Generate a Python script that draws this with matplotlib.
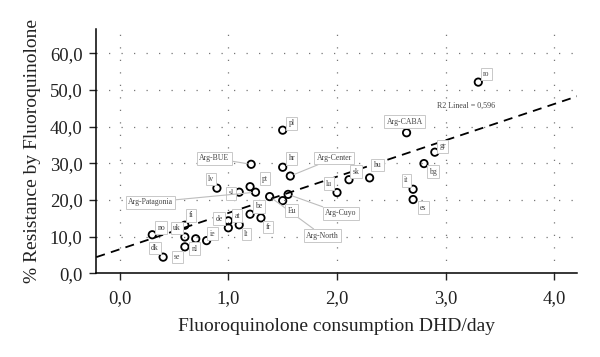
import numpy as np
import matplotlib
matplotlib.use("Agg")
import matplotlib.pyplot as plt

# data
labels = ["ro", "pl", "Arg-CABA", "gr", "bg", "Arg-BUE", "hr", "Arg-Center",
          "pt", "lv", "sl", "Arg-Patagonia", "Arg-North", "Eu", "Arg-Cuyo",
          "lu", "sk", "hu", "it", "es",
          "be", "at", "de", "lt", "fr",
          "fi", "no", "uk", "nl", "ie", "dk", "se"]
consumption = [3.30, 1.50, 2.64, 2.90, 2.80, 1.21, 1.50, 1.57,
               1.20, 0.895, 1.10, 1.25, 1.38, 1.50, 1.55,
               2.00, 2.11, 2.30, 2.70, 2.70,
               1.20, 1.00, 1.00, 1.10, 1.30,
               0.60, 0.30, 0.60, 0.70, 0.80, 0.60, 0.40]
resistance = [52.1, 39.0, 38.3, 33.0, 29.9, 29.7, 28.9, 26.5,
              23.6, 23.2, 22.1, 22.1, 20.9, 19.8, 21.5,
              22.0, 25.5, 26.0, 22.9, 20.1,
              16.1, 14.3, 12.4, 13.2, 15.1,
              13.1, 10.5, 9.9, 9.4, 8.9, 7.2, 4.4]
r2_text = "R2 Lineal = 0,596"

# label offsets in pixels (dx, dy) and whether a leader line is drawn
offsets = [(8, 8), (9, 7), (-2, 11), (8, 6), (9, -8), (-37, 6), (9, 9), (44, 18),
           (15, 8), (-6, 9), (-8, -1), (-105, -10), (53, -39), (9, -10), (53, -19),
           (-8, 9), (7, 8), (8, 13), (-7, 9), (10, -8),
           (9, 8), (9, 5), (-9, 9), (7, -9), (7, -9),
           (6, 10), (9, 7), (-8, 9), (-1, -10), (6, 7), (-30, -1), (14, 0)]
leaders = {"Arg-BUE", "Arg-Center", "Arg-Patagonia", "Arg-North", "Arg-Cuyo"}

plt.rcParams['font.family'] = ['Liberation Serif', 'DejaVu Serif']

fig = plt.figure(figsize=(6, 3.57), dpi=100)
ax = fig.add_axes([0.1605, 0.2345, 0.8015, 0.6835])

x = np.array(consumption)
y = np.array(resistance)

ax.set_xlim(-0.215, 4.21)
ax.set_ylim(0, 66.5)

# fit line
slope, icpt = np.polyfit(x, y, 1)
xl = np.array([-0.215, 4.21])
ax.plot(xl, icpt + slope * xl, color='black', lw=1.3, dashes=(5, 3.5), zorder=3)

ax.scatter(x, y, s=28, facecolor='none', edgecolor='black', linewidth=1.3, zorder=4)

box = dict(boxstyle='square,pad=0.3', fc='white', ec='#c8c8c8', lw=0.7)
for i in range(len(labels)):
    lab = labels[i]
    dx, dy = offsets[i]
    arrow = None
    if lab in leaders:
        arrow = dict(arrowstyle='-', color='#bdbdbd', lw=0.8, shrinkA=0, shrinkB=3)
    ax.annotate(lab, (x[i], y[i]), xytext=(dx, dy), textcoords='offset pixels',
                ha='center', va='center', fontsize=5.6, color='#444444',
                bbox=box, arrowprops=arrow, zorder=5)

ax.text(3.19, 45.6, r2_text, fontsize=5.8, color='#444444', ha='center', va='center')

ax.set_xticks([0, 1, 2, 3, 4])
ax.set_xticklabels(["0,0", "1,0", "2,0", "3,0", "4,0"])
ax.set_yticks([0, 10, 20, 30, 40, 50, 60])
ax.set_yticklabels(["0,0", "10,0", "20,0", "30,0", "40,0", "50,0", "60,0"])
ax.tick_params(labelsize=13.5, length=5, width=1, colors='#222222')
ax.tick_params(axis='x', pad=7)
ax.tick_params(axis='y', pad=5)

for v in [10, 20, 30, 40, 50, 60]:
    ax.axhline(v, color='#777777', lw=0.9, ls=(0, (1, 9)), zorder=1)
for v in [0, 1, 2, 3, 4]:
    ax.axvline(v, color='#777777', lw=0.9, ls=(0, (1, 9)), zorder=1)

ax.spines['top'].set_visible(False)
ax.spines['right'].set_visible(False)
ax.spines['left'].set_linewidth(1.1)
ax.spines['bottom'].set_linewidth(1.1)

ax.set_xlabel("Fluoroquinolone consumption DHD/day", fontsize=14, color='#222222', labelpad=8)
ax.set_ylabel("% Resistance by Fluoroquinolone", fontsize=14, color='#222222', labelpad=6)

fig.savefig("out.png", dpi=100)
